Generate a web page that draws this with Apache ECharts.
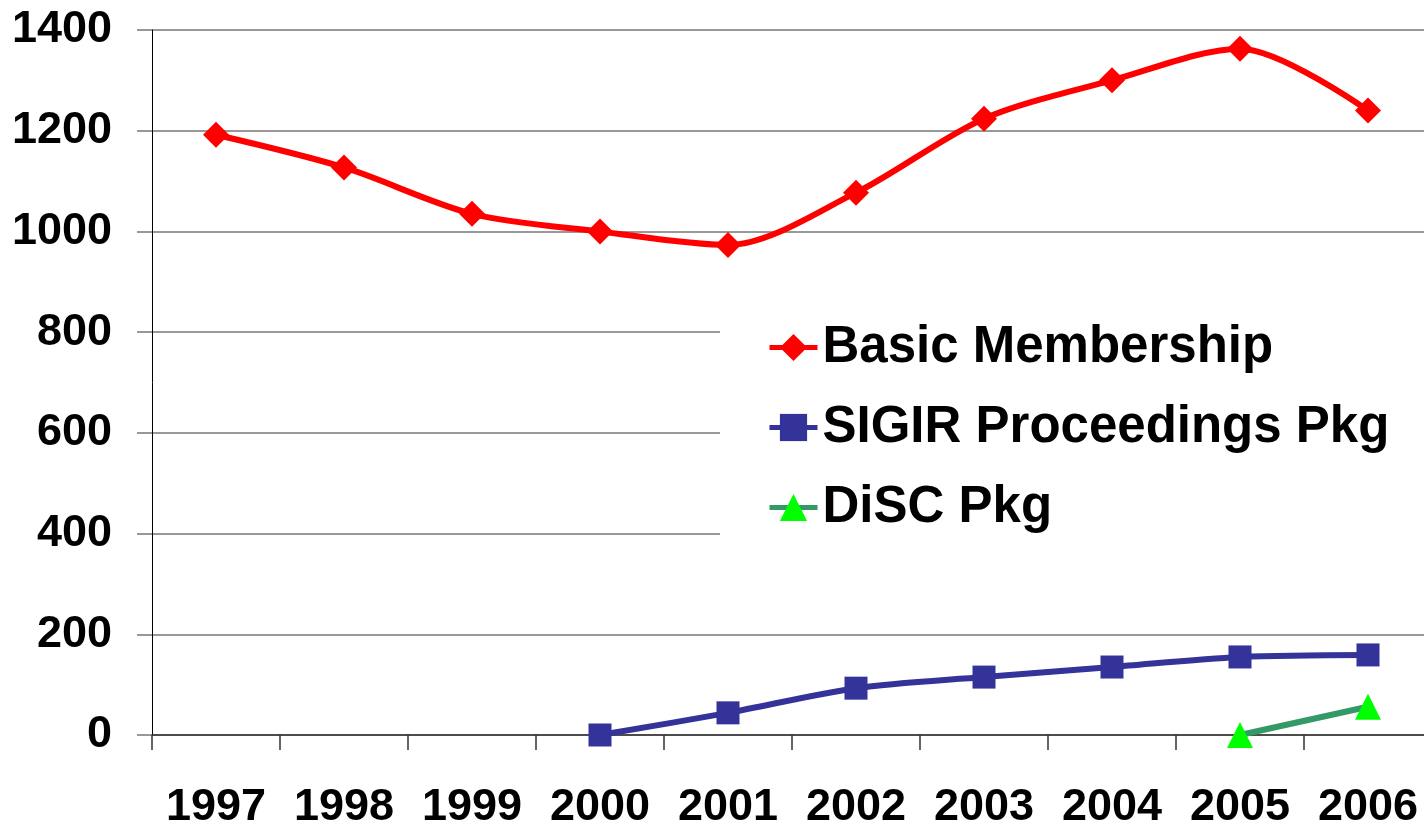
<!DOCTYPE html>
<html><head><meta charset="utf-8">
<script src="https://cdn.jsdelivr.net/npm/echarts@6/dist/echarts.min.js"></script>
<style>html,body{margin:0;padding:0;background:#fff}#c{width:1424px;height:827px}</style>
</head><body><div id="c"></div>
<script>
const years = ['1997','1998','1999','2000','2001','2002','2003','2004','2005','2006'];
const basicMembership = [1192, 1127, 1035, 1000, 973, 1077, 1224, 1300, 1363, 1240];
const sigirPkg = [null, null, null, 0, 44, 93, 115, 135, 155, 159];
const discPkg = [null, null, null, null, null, null, null, null, 0, 56];
const yTicks = [0, 200, 400, 600, 800, 1000, 1200, 1400];

const font = '"Liberation Sans", Arial, sans-serif';
const chart = echarts.init(document.getElementById('c'), null, {renderer: 'canvas'});
chart.setOption({
  animation: false,
  backgroundColor: '#fff',
  grid: {left: 152, top: 30, width: 1280, height: 705, containLabel: false, outerBoundsMode: 'none'},
  legend: {
    orient: 'vertical',
    left: 720, top: 302,
    padding: [20, 120, 22, 47],
    backgroundColor: '#fff',
    itemWidth: 48, itemHeight: 34,
    itemGap: 29,
    lineStyle: {width: 5},
    textStyle: {fontSize: 51, fontWeight: 'bold', fontFamily: font, color: '#000', padding: [0, 0, 0, 0]},
    data: ['Basic Membership', 'SIGIR Proceedings Pkg', 'DiSC Pkg']
  },
  xAxis: {
    type: 'category', data: years, boundaryGap: true,
    axisLine: {show: true, lineStyle: {color: '#333', width: 1.5}},
    axisTick: {show: true, length: 15, lineStyle: {color: '#333', width: 1.5}},
    axisLabel: {interval: 0, fontSize: 45, fontWeight: 'bold', fontFamily: font, color: '#000', margin: 50}
  },
  yAxis: {
    type: 'value', min: 0, max: 1400, interval: 200,
    axisLine: {show: true, lineStyle: {color: '#000', width: 1}},
    axisTick: {show: true, length: 15, lineStyle: {color: '#777', width: 1.5}},
    splitLine: {show: true, lineStyle: {color: '#777', width: 1.5}},
    axisLabel: {fontSize: 45, fontWeight: 'bold', fontFamily: font, color: '#000', margin: 40,
      formatter: v => yTicks.includes(v) ? String(v) : ''}
  },
  series: [
    {name: 'Basic Membership', type: 'line', data: basicMembership, smooth: 0.3,
     symbol: 'diamond', symbolSize: 26, lineStyle: {color: '#ff0000', width: 6},
     itemStyle: {color: '#ff0000'}, z: 3},
    {name: 'SIGIR Proceedings Pkg', type: 'line', data: sigirPkg, smooth: 0.3,
     symbol: 'rect', symbolSize: 23, lineStyle: {color: '#333399', width: 6},
     itemStyle: {color: '#333399'}, z: 3},
    {name: 'DiSC Pkg', type: 'line', data: discPkg, smooth: 0.3,
     symbol: 'triangle', symbolSize: 26, lineStyle: {color: '#339966', width: 6},
     itemStyle: {color: '#00ff00'}, z: 3}
  ]
});
</script></body></html>
